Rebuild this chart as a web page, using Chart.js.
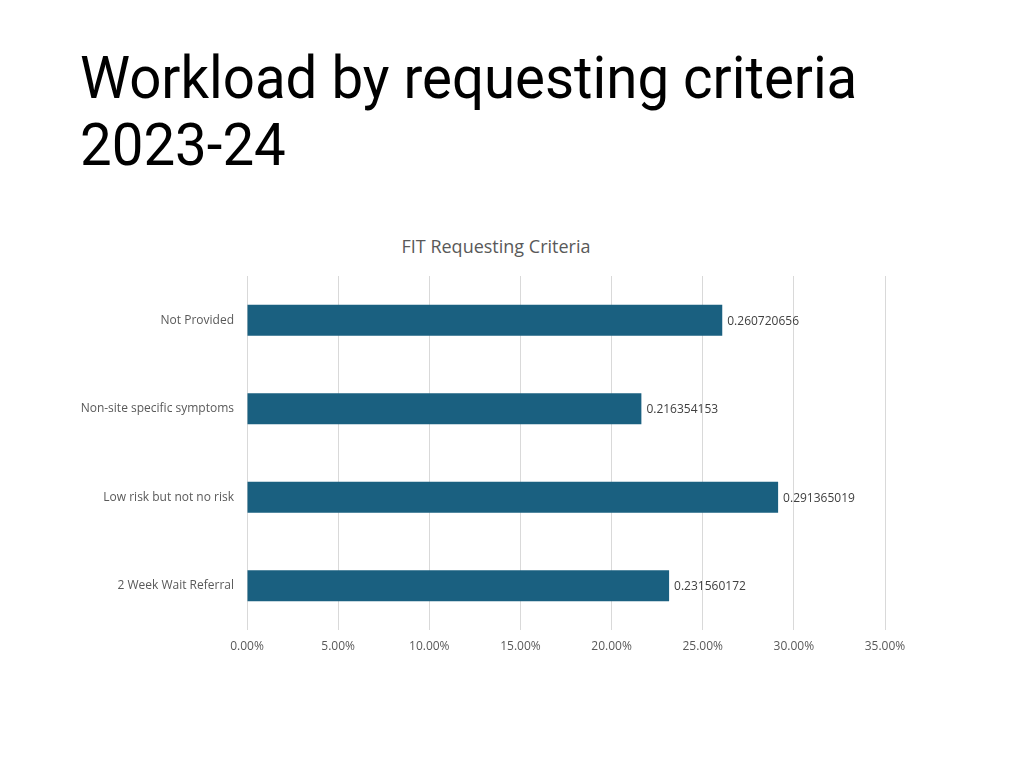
<!DOCTYPE html>
<html>
<head>
<meta charset="utf-8">
<script src="https://cdn.jsdelivr.net/npm/chart.js@4/dist/chart.umd.min.js"></script>
<style>
  html, body { margin: 0; padding: 0; background: #fff; }
  #titulo {
    position: absolute; left: 80px; top: 44px; margin: 0;
    font-family: "Roboto", sans-serif;
    font-weight: normal; font-size: 60px; line-height: 67px; color: #000;
    transform: scaleX(0.94); transform-origin: left top;
    white-space: nowrap;
  }
  #subtitulo {
    position: absolute; left: 296px; width: 400px; top: 234px; margin: 0;
    text-align: center; color: #595959;
    font-family: "Open Sans", "Noto Sans", sans-serif; font-size: 18px; line-height: 24px;
  }
  #caixa { position: absolute; left: 0; top: 0; width: 1024px; height: 768px; }
</style>
</head>
<body>
<h1 id="titulo">Workload by requesting criteria<br>2023-24</h1>
<div id="subtitulo">FIT Requesting Criteria</div>
<div id="caixa"><canvas id="grafico"></canvas></div>
<script>
const categorias = ['Not Provided', 'Non-site specific symptoms', 'Low risk but not no risk', '2 Week Wait Referral'];
const valores = [0.260720656, 0.216354153, 0.291365019, 0.231560172];
const rotulos = ['0.260720656', '0.216354153', '0.291365019', '0.231560172'];

const fonte = '"Open Sans", "Noto Sans", sans-serif';

// escreve o valor no fim de cada barra
const rotulosBarras = {
  id: 'rotulosBarras',
  afterDatasetsDraw(chart) {
    const ctx = chart.ctx;
    const meta = chart.getDatasetMeta(0);
    ctx.save();
    ctx.font = '12px ' + fonte;
    ctx.fillStyle = '#404040';
    ctx.textAlign = 'left';
    ctx.textBaseline = 'middle';
    meta.data.forEach((barra, i) => {
      ctx.fillText(rotulos[i], barra.x + 5, barra.y + 1);
    });
    ctx.restore();
  }
};

new Chart(document.getElementById('grafico').getContext('2d'), {
  type: 'bar',
  data: {
    labels: categorias,
    datasets: [{
      data: valores,
      backgroundColor: '#1a6080',
      borderWidth: 0,
      barPercentage: 0.35,
      categoryPercentage: 1,
    }],
  },
  options: {
    indexAxis: 'y',
    responsive: true,
    maintainAspectRatio: false,
    animation: false,
    layout: { padding: { top: 276, left: 0, right: 139, bottom: 0 } },
    plugins: {
      legend: { display: false },
      tooltip: { enabled: false },
      title: { display: false },
    },
    scales: {
      x: {
        min: 0, max: 0.35,
        ticks: {
          stepSize: 0.05,
          color: '#595959',
          font: { family: fonte, size: 12 },
          padding: 9,
          callback: v => (v * 100).toFixed(2) + '%',
        },
        grid: { color: '#d9d9d9', drawTicks: false },
        border: { display: false },
        afterFit: s => { s.height = 138; },
      },
      y: {
        ticks: { color: '#595959', font: { family: fonte, size: 12 }, padding: 13 },
        grid: { display: false, drawTicks: false },
        border: { display: false },
        afterFit: s => { s.width = 247; },
      },
    },
  },
  plugins: [rotulosBarras],
});
</script>
</body>
</html>
